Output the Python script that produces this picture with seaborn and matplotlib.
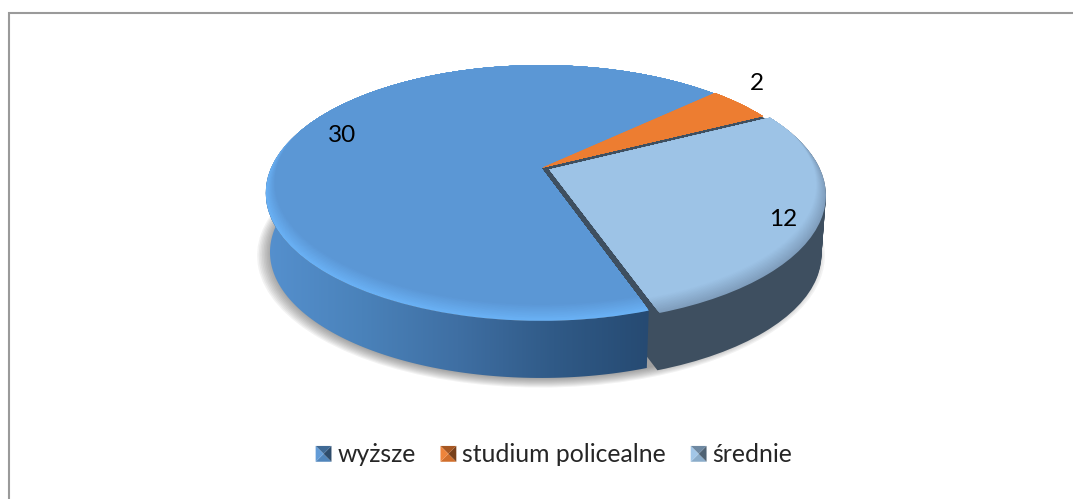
import numpy as np
import matplotlib
matplotlib.use('Agg')
import matplotlib.pyplot as plt
import matplotlib.transforms as mtransforms
from matplotlib.colors import LinearSegmentedColormap, to_rgb
from matplotlib.legend_handler import HandlerPatch
from matplotlib.patches import Patch, Polygon
from matplotlib.path import Path
import seaborn as sns

categories = ['wyższe', 'studium policealne', 'średnie']
values = [30, 2, 12]

sns.set_theme(style='white')
plt.rcParams['font.family'] = ['Lato', 'DejaVu Sans']
palette = sns.color_palette(['#5b97d5', '#ed7d31', '#9dc3e6'])
rim_colors = sns.color_palette(['#6ab2f6', '#f08a42', '#7f9dbc'])

# rzut perspektywiczny kola na elipse (piksele obrazka)
CX, CY = 541, 168
A, C, K = 123, 270, 0.195
DEPTH = 60
START = 289
EXPLODE = [0, 0.006, 0.034]


class TiltView(mtransforms.Transform):
    input_dims = 2
    output_dims = 2

    def __init__(self, drop=0.0, shrink=1.0):
        super().__init__()
        self.drop = drop
        self.shrink = shrink

    def transform_non_affine(self, pts):
        pts = np.asarray(pts, dtype=float)
        x = pts[:, 0] * self.shrink
        y = pts[:, 1] * self.shrink
        w = 1 + K * y
        return np.column_stack((CX + C * x / w, CY + self.drop - A * y / w))


def draw_pie(ax, colors, view, explode=None, radius=1.0, center=(0, 0), alpha=None):
    props = {'linewidth': 0, 'alpha': alpha}
    wedges, _ = ax.pie(values, colors=colors, startangle=START, counterclock=False,
                       explode=explode, radius=radius, center=center, wedgeprops=props)
    for w in wedges:
        w.set_transform(view + ax.transData)
    return wedges


def blend(c1, c2, f):
    return tuple(np.array(to_rgb(c1)) * (1 - f) + np.array(to_rgb(c2)) * f)


class BevelHandler(HandlerPatch):
    # znacznik legendy z czterema skosnymi polami
    def create_artists(self, legend, orig_handle, xdescent, ydescent, width, height, fontsize, trans):
        base = orig_handle.get_facecolor()
        x0 = -xdescent
        s = width
        y0 = -ydescent + (height - s) / 2
        mid = (x0 + s / 2, y0 + s / 2)
        corners = [(x0, y0), (x0 + s, y0), (x0 + s, y0 + s), (x0, y0 + s)]
        shades = [blend(base, 'black', 0.12), blend(base, 'black', 0.5), blend(base, 'black', 0.3), blend(base, 'white', 0.05)]
        out = []
        for i, shade in enumerate(shades):
            tri = Polygon([corners[i], corners[(i + 1) % 4], mid], closed=True, facecolor=shade, linewidth=0, transform=trans)
            out.append(tri)
        return out


fig = plt.figure(figsize=(10.73, 4.99), dpi=100)
ax = fig.add_axes([0, 0, 1, 1])

# cien pod wykresem
shadow = TiltView(drop=DEPTH + 1, shrink=1.0)
for r in np.linspace(1.03, 0.98, 10):
    draw_pie(ax, ['#505050'] * 3, shadow, radius=r, alpha=0.07)

# sciana boczna wysunietego wycinka
dark = '#3e4f60'
for d in np.linspace(0, DEPTH, 40):
    s = 1 - 0.015 * d / DEPTH
    draw_pie(ax, [(1, 1, 1, 0), (1, 1, 1, 0), dark], TiltView(drop=d, shrink=s), explode=EXPLODE)

# sciana boczna, niebieska czesc z gradientem
theta = np.radians(np.linspace(165, START, 120))
ring = np.column_stack((np.cos(theta), np.sin(theta)))
top_edge = TiltView().transform_non_affine(ring)
bottom_edge = TiltView(drop=DEPTH, shrink=0.985).transform_non_affine(ring)
outline = np.vstack((top_edge, bottom_edge[::-1]))
wall_cmap = LinearSegmentedColormap.from_list('wall', ['#5590ce', '#4a82ba', '#3f6fa3', '#305a87', '#264a72'])
im = ax.imshow(np.linspace(0, 1, 256).reshape(1, -1), cmap=wall_cmap, aspect='auto', zorder=1,
               extent=(outline[:, 0].min(), outline[:, 0].max(), outline[:, 1].max(), outline[:, 1].min()))
im.set_clip_path(Path(outline, closed=True), ax.transData)

# ciemny spod szczelin i gorna powierzchnia
draw_pie(ax, ['#2f5b88', dark, dark], TiltView())
base = draw_pie(ax, rim_colors, TiltView(), explode=EXPLODE)
steps = 24
for i in range(1, steps + 1):
    f = i / steps
    for j, wedge in enumerate(base):
        shade = blend(rim_colors[j], palette[j], f)
        # cale kolo przyciete do wycinka, zeby swiatlo bylo tylko na obwodzie
        cx, cy = wedge.center
        disc, _ = ax.pie([1], colors=[shade], radius=1 - 0.02 * f, center=(cx, cy + 0.07 * f),
                         wedgeprops={'linewidth': 0})
        disc[0].set_transform(TiltView() + ax.transData)
        disc[0].set_clip_on(True)
        disc[0].set_clip_path(wedge)

# etykiety wartosci
ax.text(342, 135.5, str(values[0]), ha='center', va='center', fontsize=17.5, color='black')
ax.text(757, 83, str(values[1]), ha='center', va='center', fontsize=17.5, color='black')
ax.text(783, 220, str(values[2]), ha='center', va='center', fontsize=17.5, color='black')

# ramka tylko z lewej i u gory
ax.plot([8.5, 8.5, 1073], [499, 12.5, 12.5], color='#9a9a9a', linewidth=1.5, solid_joinstyle='miter')

ax.set_aspect('auto')
ax.set_xlim(0, 1073)
ax.set_ylim(499, 0)
ax.axis('off')

handles = [Patch(facecolor=c) for c in palette]
ax.legend(handles, categories, handler_map={Patch: BevelHandler()}, loc='center',
          bbox_to_anchor=(554 / 1073, 1 - 455 / 499), ncol=3, frameon=False, fontsize=17.8,
          handlelength=0.64, handletextpad=0.24, columnspacing=1.0, borderpad=0)

fig.savefig('out.png', dpi=100)
